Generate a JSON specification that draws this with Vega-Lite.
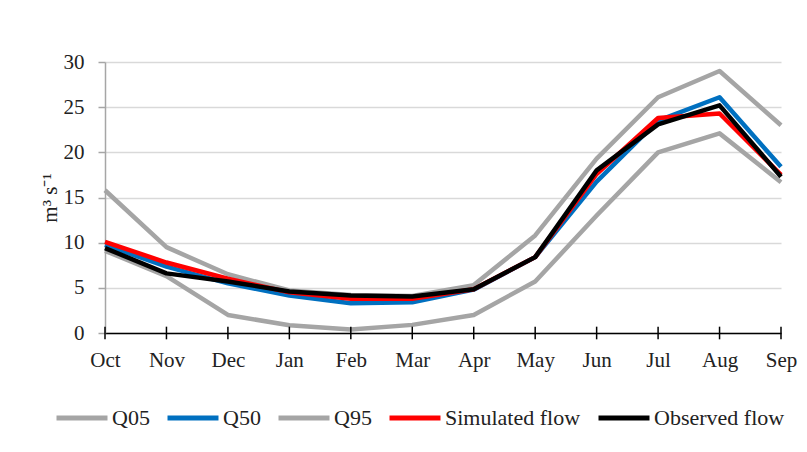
{
  "$schema": "https://vega.github.io/schema/vega-lite/v6.json",
  "width": 676,
  "height": 271,
  "autosize": {"type": "none"},
  "padding": {"left": 105, "top": 62, "right": 26, "bottom": 119},
  "background": "white",
  "config": {
    "font": "Liberation Serif",
    "view": {"stroke": null}
  },
  "data": {
    "values": [
      {"month": "Oct", "series": "Q05", "value": 9.1},
      {"month": "Nov", "series": "Q05", "value": 6.3},
      {"month": "Dec", "series": "Q05", "value": 2.0},
      {"month": "Jan", "series": "Q05", "value": 0.85},
      {"month": "Feb", "series": "Q05", "value": 0.4},
      {"month": "Mar", "series": "Q05", "value": 0.9},
      {"month": "Apr", "series": "Q05", "value": 2.0},
      {"month": "May", "series": "Q05", "value": 5.7},
      {"month": "Jun", "series": "Q05", "value": 13.0},
      {"month": "Jul", "series": "Q05", "value": 20.0},
      {"month": "Aug", "series": "Q05", "value": 22.1},
      {"month": "Sep", "series": "Q05", "value": 16.7},
      {"month": "Oct", "series": "Q95", "value": 15.8},
      {"month": "Nov", "series": "Q95", "value": 9.5},
      {"month": "Dec", "series": "Q95", "value": 6.5},
      {"month": "Jan", "series": "Q95", "value": 4.7},
      {"month": "Feb", "series": "Q95", "value": 4.2},
      {"month": "Mar", "series": "Q95", "value": 4.1},
      {"month": "Apr", "series": "Q95", "value": 5.3},
      {"month": "May", "series": "Q95", "value": 10.8},
      {"month": "Jun", "series": "Q95", "value": 19.3},
      {"month": "Jul", "series": "Q95", "value": 26.1},
      {"month": "Aug", "series": "Q95", "value": 29.0},
      {"month": "Sep", "series": "Q95", "value": 23.0},
      {"month": "Oct", "series": "Q50", "value": 9.75},
      {"month": "Nov", "series": "Q50", "value": 7.35},
      {"month": "Dec", "series": "Q50", "value": 5.5},
      {"month": "Jan", "series": "Q50", "value": 4.15},
      {"month": "Feb", "series": "Q50", "value": 3.3},
      {"month": "Mar", "series": "Q50", "value": 3.4},
      {"month": "Apr", "series": "Q50", "value": 4.8},
      {"month": "May", "series": "Q50", "value": 8.4},
      {"month": "Jun", "series": "Q50", "value": 16.75},
      {"month": "Jul", "series": "Q50", "value": 23.5},
      {"month": "Aug", "series": "Q50", "value": 26.1},
      {"month": "Sep", "series": "Q50", "value": 18.4},
      {"month": "Oct", "series": "Simulated flow", "value": 10.1},
      {"month": "Nov", "series": "Simulated flow", "value": 7.8},
      {"month": "Dec", "series": "Simulated flow", "value": 6.0},
      {"month": "Jan", "series": "Simulated flow", "value": 4.5},
      {"month": "Feb", "series": "Simulated flow", "value": 3.8},
      {"month": "Mar", "series": "Simulated flow", "value": 3.8},
      {"month": "Apr", "series": "Simulated flow", "value": 4.85},
      {"month": "May", "series": "Simulated flow", "value": 8.4},
      {"month": "Jun", "series": "Simulated flow", "value": 17.6},
      {"month": "Jul", "series": "Simulated flow", "value": 23.8},
      {"month": "Aug", "series": "Simulated flow", "value": 24.3},
      {"month": "Sep", "series": "Simulated flow", "value": 17.5},
      {"month": "Oct", "series": "Observed flow", "value": 9.4},
      {"month": "Nov", "series": "Observed flow", "value": 6.6},
      {"month": "Dec", "series": "Observed flow", "value": 5.7},
      {"month": "Jan", "series": "Observed flow", "value": 4.6},
      {"month": "Feb", "series": "Observed flow", "value": 4.15},
      {"month": "Mar", "series": "Observed flow", "value": 4.05},
      {"month": "Apr", "series": "Observed flow", "value": 4.85},
      {"month": "May", "series": "Observed flow", "value": 8.4},
      {"month": "Jun", "series": "Observed flow", "value": 18.0},
      {"month": "Jul", "series": "Observed flow", "value": 23.1},
      {"month": "Aug", "series": "Observed flow", "value": 25.2},
      {"month": "Sep", "series": "Observed flow", "value": 17.3}
    ]
  },
  "layer": [
    {
      "mark": {"type": "line", "strokeWidth": 4.5, "strokeJoin": "round", "strokeCap": "butt"},
      "encoding": {
        "x": {
          "field": "month",
          "type": "ordinal",
          "sort": ["Oct","Nov","Dec","Jan","Feb","Mar","Apr","May","Jun","Jul","Aug","Sep"],
          "scale": {"type": "point", "padding": 0},
          "axis": {
            "title": null,
            "labelAngle": 0,
            "labelFont": "Liberation Serif",
            "labelFontSize": 21,
            "labelColor": "#222222",
            "labelPadding": 16,
            "ticks": false,
            "domainColor": "#000000",
            "domainWidth": 1.5,
            "grid": false
          }
        },
        "y": {
          "field": "value",
          "type": "quantitative",
          "scale": {"domain": [0, 30], "nice": false},
          "axis": {
            "values": [0, 5, 10, 15, 20, 25, 30],
            "title": "m³ s⁻¹",
            "titleFont": "Liberation Serif",
            "titleFontSize": 21,
            "titleFontWeight": "normal",
            "titleColor": "#222222",
            "titlePadding": 3,
            "labelFont": "Liberation Serif",
            "labelFontSize": 21,
            "labelColor": "#222222",
            "labelPadding": 14,
            "tickColor": "#A6A6A6",
            "tickSize": 7,
            "tickWidth": 1.5,
            "domainColor": "#A6A6A6",
            "domainWidth": 1.5,
            "gridColor": "#D9D9D9",
            "gridWidth": 1.5
          }
        },
        "color": {
          "field": "series",
          "type": "nominal",
          "scale": {
            "domain": ["Q05", "Q50", "Q95", "Simulated flow", "Observed flow"],
            "range": ["#A5A5A5", "#0070C0", "#A5A5A5", "#FF0000", "#000000"]
          },
          "legend": {
            "title": null,
            "orient": "none",
            "direction": "horizontal",
            "legendX": -51,
            "legendY": 328,
            "symbolType": "stroke",
            "symbolSize": 2600,
            "symbolStrokeWidth": 5,
            "labelFont": "Liberation Serif",
            "labelFontSize": 22,
            "labelColor": "#222222",
            "labelOffset": 2,
            "columnPadding": 7,
            "labelLimit": 300
          }
        }
      }
    },
    {
      "transform": [{"filter": "datum.series === 'Q05'"}],
      "mark": {"type": "rule", "color": "#000000", "strokeWidth": 1.5},
      "encoding": {
        "x": {"field": "month", "type": "ordinal", "sort": ["Oct","Nov","Dec","Jan","Feb","Mar","Apr","May","Jun","Jul","Aug","Sep"]},
        "y": {"datum": -0.7},
        "y2": {"datum": 0.7}
      }
    }
  ]
}
